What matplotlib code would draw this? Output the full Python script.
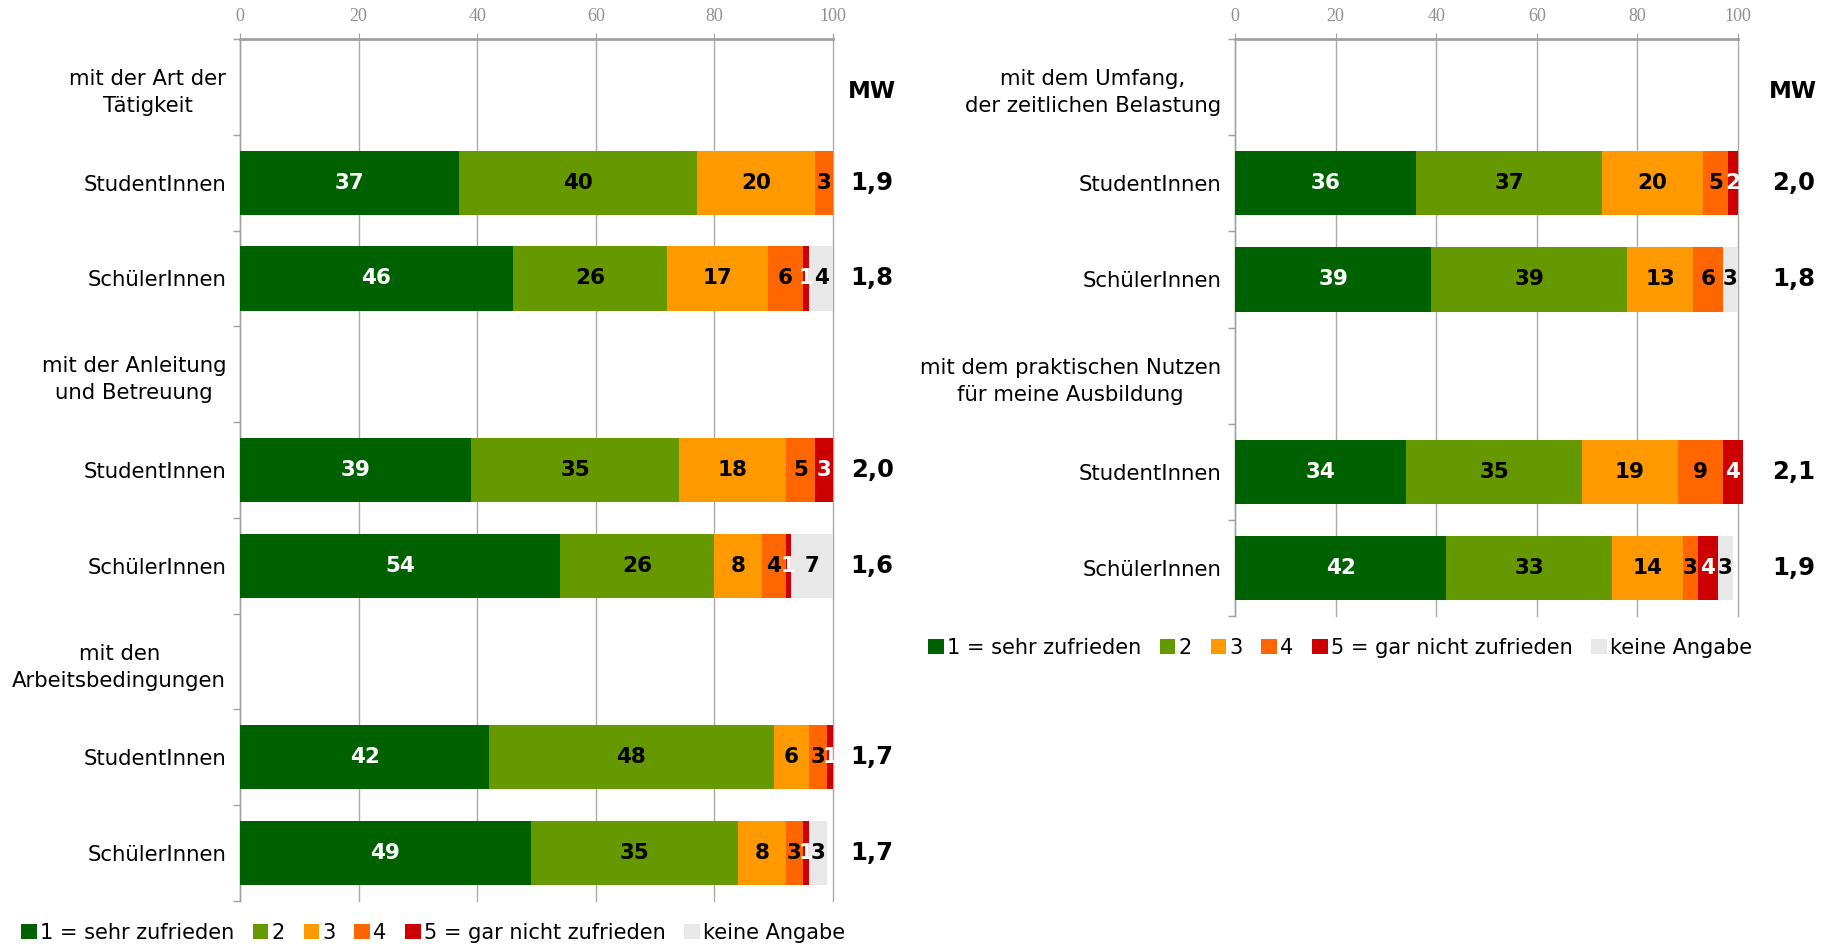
import matplotlib
matplotlib.use("Agg")
import matplotlib.pyplot as plt
from matplotlib.patches import Patch
import numpy as np

plt.rcParams['font.family'] = ['DejaVu Sans']

legend_labels = ["1 = sehr zufrieden", "2", "3", "4", "5 = gar nicht zufrieden", "keine Angabe"]
colors = ["#006100", "#669900", "#FF9900", "#FF6600", "#CC0000", "#E8E8E8"]
label_colors = ["white", "black", "black", "black", "white", "black"]

# Left panel
left_rows = ["mit der Art der\nTätigkeit", "StudentInnen", "SchülerInnen",
             "mit der Anleitung\nund Betreuung", "StudentInnen", "SchülerInnen",
             "mit den\nArbeitsbedingungen", "StudentInnen", "SchülerInnen"]
left_values = [
    None,
    [37, 40, 20, 3, 0, 0],
    [46, 26, 17, 6, 1, 4],
    None,
    [39, 35, 18, 5, 3, 0],
    [54, 26, 8, 4, 1, 7],
    None,
    [42, 48, 6, 3, 1, 0],
    [49, 35, 8, 3, 1, 3],
]
left_mw = [None, "1,9", "1,8", None, "2,0", "1,6", None, "1,7", "1,7"]

# Right panel
right_rows = ["mit dem Umfang,\nder zeitlichen Belastung", "StudentInnen", "SchülerInnen",
              "mit dem praktischen Nutzen\nfür meine Ausbildung", "StudentInnen", "SchülerInnen"]
right_values = [
    None,
    [36, 37, 20, 5, 2, 0],
    [39, 39, 13, 6, 0, 3],
    None,
    [34, 35, 19, 9, 4, 0],
    [42, 33, 14, 3, 4, 3],
]
right_mw = [None, "2,0", "1,8", None, "2,1", "1,9"]

ticks = [0, 20, 40, 60, 80, 100]

W, H = 1836, 944
fig = plt.figure(figsize=(W / 100, H / 100), dpi=100)

def panel(rect, rows, values, mw, mw_x):
    ax = fig.add_axes(rect)
    n = len(rows)
    ypos = np.arange(n)
    for i, vals in enumerate(values):
        if vals is None:
            continue
        left = 0
        for k, v in enumerate(vals):
            if v > 0:
                ax.barh(i, v, left=left, height=0.67, color=colors[k], edgecolor='none',
                        zorder=3, clip_on=False)
                ax.text(left + v / 2, i, str(v), ha='center', va='center', fontsize=15.5,
                        fontweight='bold', color=label_colors[k], zorder=4, clip_on=False)
            left += v
        ax.text(mw_x, i, mw[i], ha='center', va='center', fontsize=17.5, fontweight='bold',
                color='black', clip_on=False)
    ax.text(mw_x, 0.05, "MW", ha='center', va='center', fontsize=16.5, fontweight='bold',
            color='black', clip_on=False)
    ax.set_xlim(0, 100)
    ax.set_ylim(n - 0.5, -0.5)
    ax.set_yticks(ypos)
    ax.set_yticklabels(rows, fontsize=15.3)
    for t in ax.get_yticklabels():
        t.set_multialignment('center')
        t.set_linespacing(1.45)
    ax.set_yticks(np.arange(n + 1) - 0.5, minor=True)
    ax.tick_params(axis='y', which='major', length=0, pad=10)
    ax.tick_params(axis='y', which='minor', length=5, color='#A0A0A0', width=1)
    ax.xaxis.tick_top()
    ax.set_xticks(ticks)
    ax.set_xticklabels([str(t) for t in ticks], fontsize=13, color='#909090',
                       family='Liberation Serif')
    ax.tick_params(axis='x', length=4, color='#A0A0A0', pad=6)
    ax.grid(axis='x', color='#AAAAAA', linewidth=1, zorder=0)
    for gl in ax.get_xgridlines():
        gl.set_clip_on(False)
    ax.set_axisbelow(True)
    for s in ['right', 'bottom']:
        ax.spines[s].set_visible(False)
    ax.spines['top'].set_color('#A0A0A0')
    ax.spines['top'].set_linewidth(2)
    ax.spines['left'].set_color('#A0A0A0')
    ax.spines['left'].set_linewidth(1)
    return ax

panel([240 / W, 1 - 901 / H, (833 - 240) / W, (901 - 39) / H], left_rows, left_values, left_mw, 106.6)
panel([1235 / W, 1 - 616 / H, (1738 - 1235) / W, (616 - 39) / H], right_rows, right_values, right_mw, 111)

handles = [Patch(facecolor=c, edgecolor='none') for c in colors]
for x0, y0 in [(21 / W, 933 / H), (928 / W, 648 / H)]:
    fig.legend(handles, legend_labels, loc='center left', bbox_to_anchor=(x0, 1 - y0),
               ncol=6, frameon=False, fontsize=15, handlelength=0.75, handleheight=0.75,
               handletextpad=0.15, columnspacing=0.9, borderaxespad=0, borderpad=0)

fig.savefig("out.png", dpi=100)
